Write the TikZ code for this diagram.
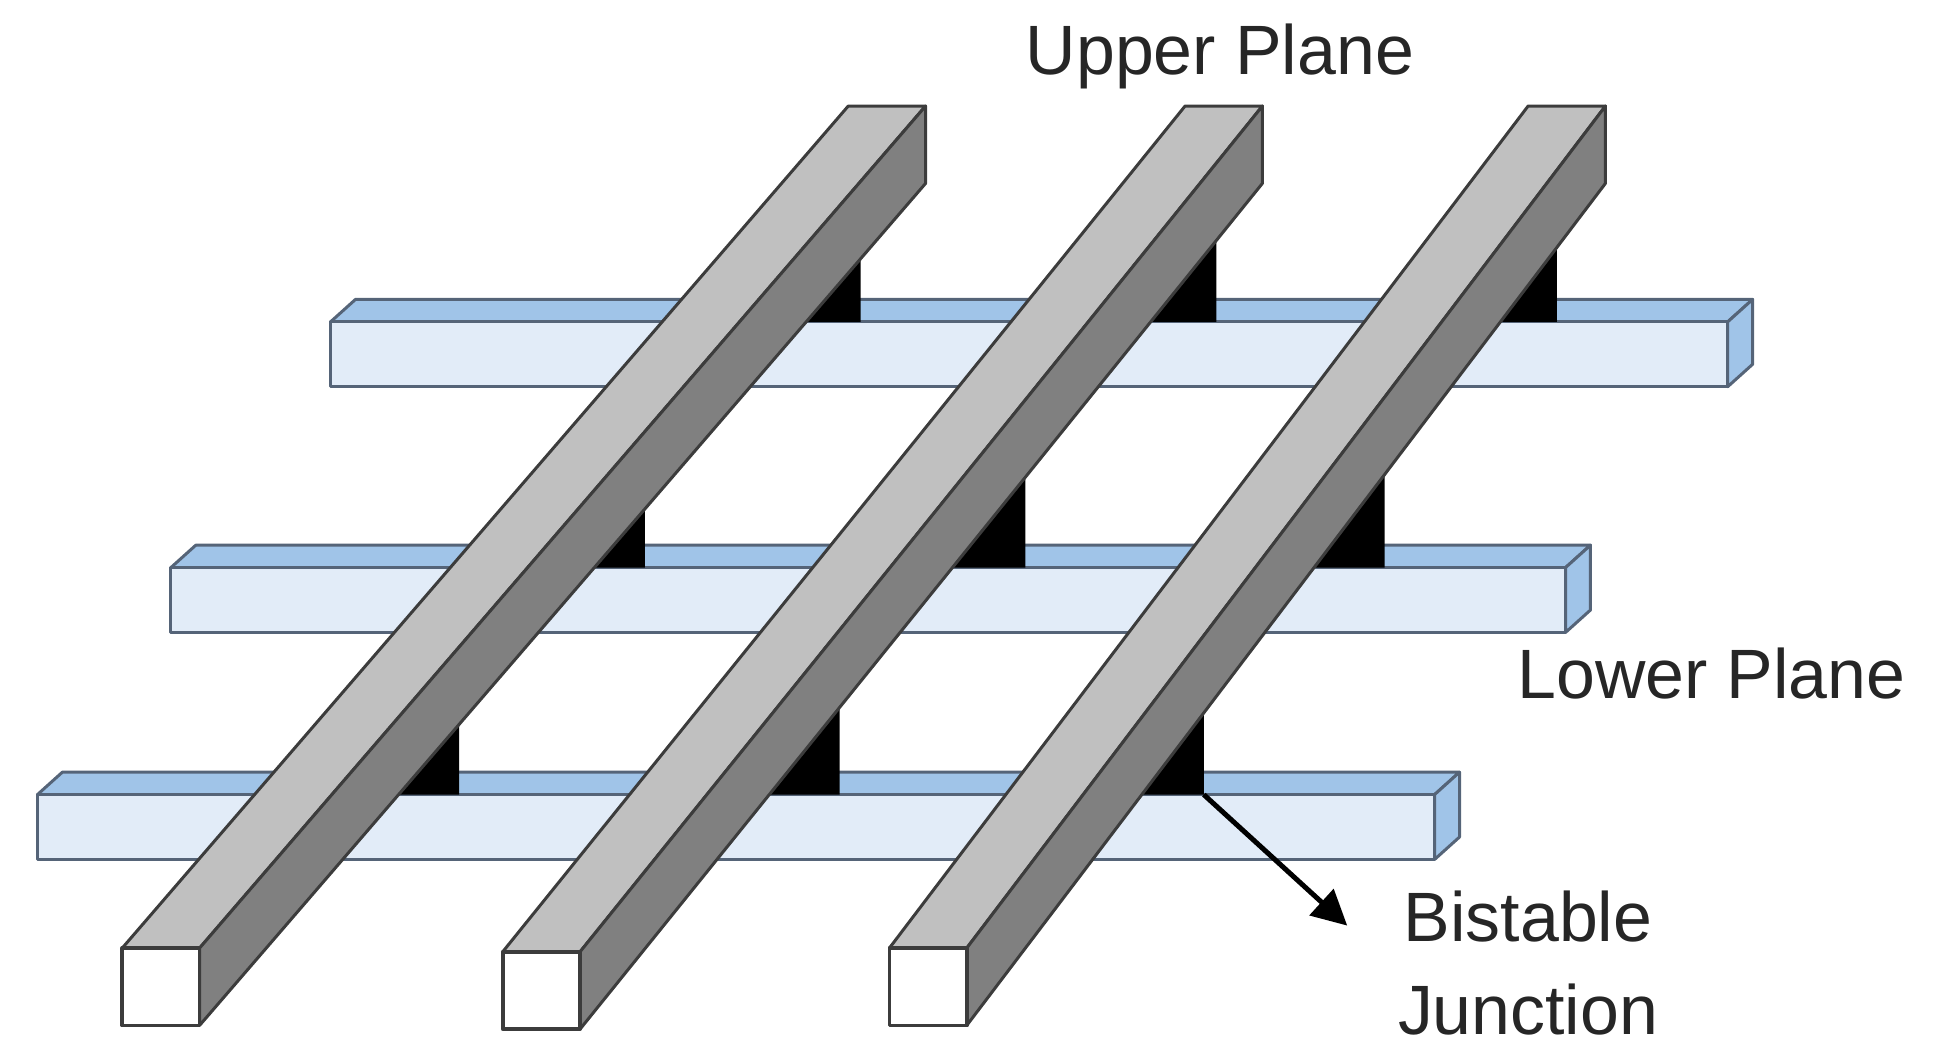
\documentclass[tikz,border=0pt]{standalone}
\usepackage{fontspec}
\setmainfont{Liberation Sans}
\usetikzlibrary{arrows.meta}
\definecolor{lbfront}{RGB}{226,236,248}
\definecolor{lbtop}{RGB}{160,196,232}
\definecolor{lbedge}{RGB}{85,100,120}
\definecolor{gtop}{RGB}{192,192,192}
\definecolor{gside}{RGB}{128,128,128}
\definecolor{gedge}{RGB}{60,60,60}
\begin{document}
\begin{tikzpicture}[x=0.5pt,y=-0.5pt,line join=round,
  lface/.style={fill=lbfront,draw=lbedge,line width=1.2pt},
  ltop/.style={fill=lbtop,draw=lbedge,line width=1.2pt},
  gt/.style={fill=gtop,draw=gedge,line width=1.2pt},
  gs/.style={fill=gside,draw=gedge,line width=1.2pt},
  gf/.style={fill=white,draw=gedge,line width=1.5pt},
  junc/.style={fill=black},
  lbl/.style={font=\fontsize{28}{33}\selectfont,text=black!85}]
\useasboundingbox (0,0) rectangle (1560,851);
% lower bars
\foreach \xl/\xr/\yt in {265/1385/258, 137/1255/455, 30/1150/637}{
  \draw[ltop] (\xl,\yt) -- (\xl+20,\yt-18) -- (\xr+20,\yt-18) -- (\xr,\yt) -- cycle;
  \draw[ltop] (\xr,\yt) -- (\xr+20,\yt-18) -- (\xr+20,\yt+34) -- (\xr,\yt+52) -- cycle;
  \draw[lface] (\xl,\yt) rectangle (\xr,\yt+52);
}
% junctions
\foreach \a/\xr/\yr/\yb in {646/690/207/258, 476/517/408/455, 320/368/581/637,
  923/975/193/258, 764/822/383/455, 617/673/568/637,
  1203/1248/198/258, 1053/1110/380/455, 915/965/572/637}{
  \fill[junc] (\a-4,\yb) -- (\xr,\yr-4) -- (\xr,\yb) -- cycle;
}
% upper bars
\foreach \x/\y/\tx in {98/760/680, 403/763/950, 713/760/1225}{
  \draw[gt] (\x,\y) -- (\tx,85) -- (\tx+62,85) -- (\x+62,\y) -- cycle;
  \draw[gs] (\x+62,\y) -- (\tx+62,85) -- (\tx+62,147) -- (\x+62,\y+62) -- cycle;
  \draw[gf] (\x,\y) rectangle (\x+62,\y+62);
}
\coordinate (j) at (965,637);
\node[lbl] (up) at (978,45) {Upper Plane};
\node[lbl] (lo) at (1372,540) {Lower Plane};
\node[lbl,align=center] (bj) at (1225,772) {Bistable\\[4pt]Junction};
\coordinate (ae) at (1080,742);
\draw[line width=2pt,-{Triangle[length=14pt,width=14pt]}] (j) -- (ae);
\end{tikzpicture}
\end{document}
